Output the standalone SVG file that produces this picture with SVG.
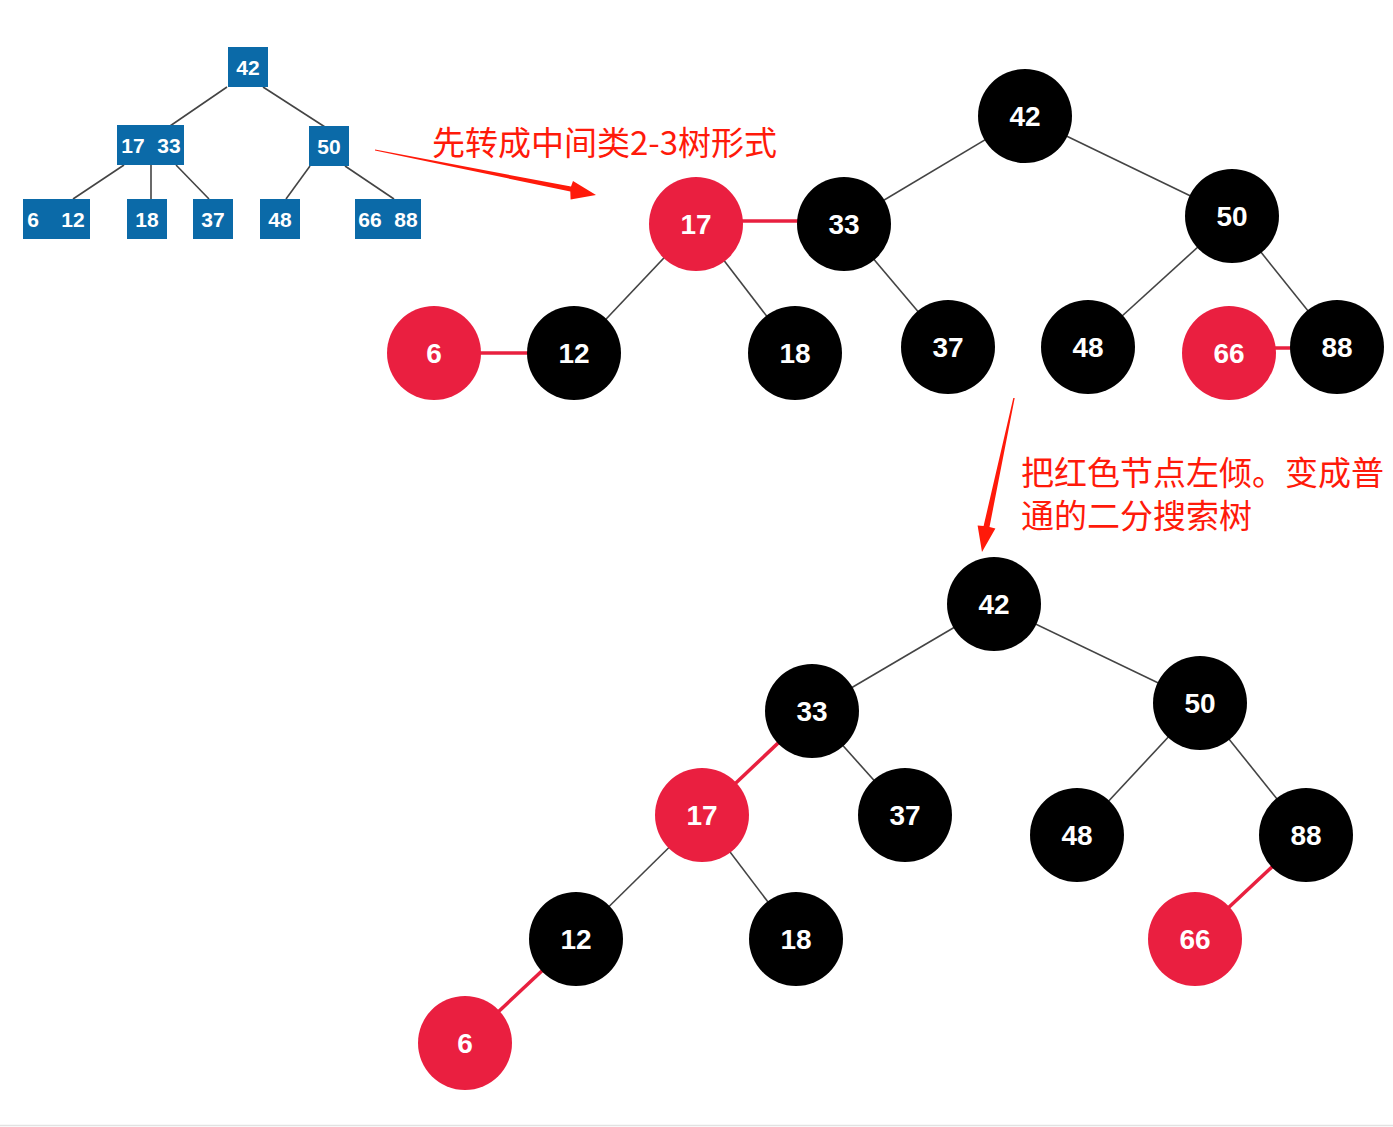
<svg xmlns="http://www.w3.org/2000/svg" width="1393" height="1127" viewBox="0 0 1393 1127">
<style>
.box{fill:#0b6aa8}
.bt{fill:#fff;font-family:"Liberation Sans",Arial,sans-serif;font-size:21px;font-weight:bold;text-anchor:middle;dominant-baseline:central}
.e{stroke:#444;stroke-width:1.6;fill:none}
.re{stroke:#e8203f;stroke-width:3.5;fill:none}
.blk{fill:#000}
.red{fill:#ea1f40}
.ct{fill:#fff;font-family:"Liberation Sans",Arial,sans-serif;font-weight:bold;font-size:28px;text-anchor:middle;dominant-baseline:central}
.note{fill:#ff1a0a;font-family:"Noto Sans CJK SC","Liberation Sans",sans-serif;font-size:33px}
.note2{fill:#ff1a0a;font-family:"Liberation Sans","Noto Sans CJK SC",sans-serif;font-size:33px}
.arr{fill:#ff1a0a}
</style>
<rect x="0" y="0" width="1393" height="1127" fill="#fff"/>
<line x1="0" y1="1125.5" x2="1393" y2="1125.5" stroke="#e2e2e2" stroke-width="1.5"/>
<g id="connectors">
<!-- 2-3 tree -->
<line class="e" x1="227" y1="87" x2="170" y2="126"/>
<line class="e" x1="263" y1="87" x2="325" y2="127"/>
<line class="e" x1="124" y1="165" x2="73" y2="199"/>
<line class="e" x1="151" y1="165" x2="151" y2="199" stroke-width="2.2"/>
<line class="e" x1="176" y1="165" x2="209" y2="199"/>
<line class="e" x1="310" y1="166" x2="286" y2="199"/>
<line class="e" x1="345" y1="166" x2="394" y2="199"/>
<!-- top RB tree -->
<line class="e" x1="1025" y1="116" x2="844" y2="224"/>
<line class="e" x1="1025" y1="116" x2="1232" y2="216"/>
<line class="re" x1="696" y1="221" x2="844" y2="221"/>
<line class="e" x1="696" y1="224" x2="574" y2="353"/>
<line class="e" x1="696" y1="224" x2="795" y2="353"/>
<line class="e" x1="844" y1="224" x2="948" y2="347"/>
<line class="e" x1="1232" y1="216" x2="1088" y2="347"/>
<line class="e" x1="1232" y1="216" x2="1337" y2="347"/>
<line class="re" x1="434" y1="353" x2="574" y2="353"/>
<line class="re" x1="1229" y1="348" x2="1337" y2="348"/>
<!-- bottom RB tree -->
<line class="e" x1="994" y1="604" x2="812" y2="711"/>
<line class="e" x1="994" y1="604" x2="1200" y2="703"/>
<line class="re" x1="812" y1="711" x2="702" y2="815"/>
<line class="e" x1="812" y1="711" x2="905" y2="815"/>
<line class="e" x1="1200" y1="703" x2="1077" y2="835"/>
<line class="e" x1="1200" y1="703" x2="1306" y2="835"/>
<line class="e" x1="702" y1="815" x2="576" y2="939"/>
<line class="e" x1="702" y1="815" x2="796" y2="939"/>
<line class="re" x1="1306" y1="835" x2="1195" y2="939"/>
<line class="re" x1="576" y1="939" x2="465" y2="1043"/>
<!-- red annotation arrows -->
<polygon class="arr" points="375,149.4 571,186.6 573,181 596,195 570.6,199.5 570.3,191.4 375,150.6"/>
<polygon class="arr" points="1013.3,398 1014.7,398 989.5,527 995.4,528.6 982,552 977.6,525.4 983.6,526"/>
</g>
<g id="tt-42"><rect class="box" x="228" y="47" width="40" height="40"/><text class="bt" x="248" y="67">42</text></g>
<g id="tt-17-33"><rect class="box" x="117" y="125" width="67" height="40"/><text class="bt" x="133" y="145">17</text><text class="bt" x="169" y="145">33</text></g>
<g id="tt-50"><rect class="box" x="309" y="126" width="40" height="40"/><text class="bt" x="329" y="146">50</text></g>
<g id="tt-6-12"><rect class="box" x="23" y="199" width="67" height="40"/><text class="bt" x="33" y="219">6</text><text class="bt" x="73" y="219">12</text></g>
<g id="tt-18"><rect class="box" x="127" y="199" width="40" height="40"/><text class="bt" x="147" y="219">18</text></g>
<g id="tt-37"><rect class="box" x="193" y="199" width="40" height="40"/><text class="bt" x="213" y="219">37</text></g>
<g id="tt-48"><rect class="box" x="260" y="199" width="40" height="40"/><text class="bt" x="280" y="219">48</text></g>
<g id="tt-66-88"><rect class="box" x="355" y="199" width="66" height="40"/><text class="bt" x="370" y="219">66</text><text class="bt" x="406" y="219">88</text></g>

<g id="a-42"><circle class="blk" cx="1025" cy="116" r="47"/><text class="ct" x="1025" y="116">42</text></g>
<g id="a-17"><circle class="red" cx="696" cy="224" r="47"/><text class="ct" x="696" y="224">17</text></g>
<g id="a-33"><circle class="blk" cx="844" cy="224" r="47"/><text class="ct" x="844" y="224">33</text></g>
<g id="a-50"><circle class="blk" cx="1232" cy="216" r="47"/><text class="ct" x="1232" y="216">50</text></g>
<g id="a-6"><circle class="red" cx="434" cy="353" r="47"/><text class="ct" x="434" y="353">6</text></g>
<g id="a-12"><circle class="blk" cx="574" cy="353" r="47"/><text class="ct" x="574" y="353">12</text></g>
<g id="a-18"><circle class="blk" cx="795" cy="353" r="47"/><text class="ct" x="795" y="353">18</text></g>
<g id="a-37"><circle class="blk" cx="948" cy="347" r="47"/><text class="ct" x="948" y="347">37</text></g>
<g id="a-48"><circle class="blk" cx="1088" cy="347" r="47"/><text class="ct" x="1088" y="347">48</text></g>
<g id="a-66"><circle class="red" cx="1229" cy="353" r="47"/><text class="ct" x="1229" y="353">66</text></g>
<g id="a-88"><circle class="blk" cx="1337" cy="347" r="47"/><text class="ct" x="1337" y="347">88</text></g>

<g id="b-42"><circle class="blk" cx="994" cy="604" r="47"/><text class="ct" x="994" y="604">42</text></g>
<g id="b-33"><circle class="blk" cx="812" cy="711" r="47"/><text class="ct" x="812" y="711">33</text></g>
<g id="b-50"><circle class="blk" cx="1200" cy="703" r="47"/><text class="ct" x="1200" y="703">50</text></g>
<g id="b-17"><circle class="red" cx="702" cy="815" r="47"/><text class="ct" x="702" y="815">17</text></g>
<g id="b-37"><circle class="blk" cx="905" cy="815" r="47"/><text class="ct" x="905" y="815">37</text></g>
<g id="b-48"><circle class="blk" cx="1077" cy="835" r="47"/><text class="ct" x="1077" y="835">48</text></g>
<g id="b-88"><circle class="blk" cx="1306" cy="835" r="47"/><text class="ct" x="1306" y="835">88</text></g>
<g id="b-12"><circle class="blk" cx="576" cy="939" r="47"/><text class="ct" x="576" y="939">12</text></g>
<g id="b-18"><circle class="blk" cx="796" cy="939" r="47"/><text class="ct" x="796" y="939">18</text></g>
<g id="b-66"><circle class="red" cx="1195" cy="939" r="47"/><text class="ct" x="1195" y="939">66</text></g>
<g id="b-6"><circle class="red" cx="465" cy="1043" r="47"/><text class="ct" x="465" y="1043">6</text></g>

<g id="note-1"><text class="note" x="432" y="155">先转成中间类2-3树形式</text></g>
<g id="note-2"><text class="note2" x="1021" y="485">把红色节点左倾。变成普</text><text class="note2" x="1021" y="528">通的二分搜索树</text></g>
</svg>
